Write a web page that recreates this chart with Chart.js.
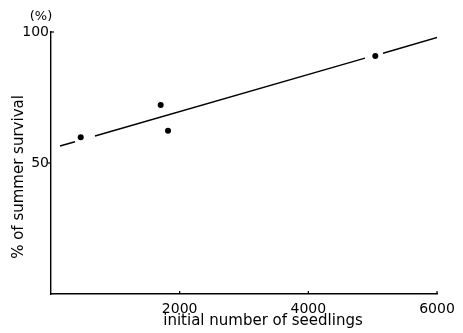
<!DOCTYPE html>
<html>
<head>
<meta charset="utf-8">
<script src="https://cdn.jsdelivr.net/npm/chart.js@4/dist/chart.umd.min.js"></script>
<style>
  html, body { margin: 0; padding: 0; background: #fff; }
  canvas { display: block; }
</style>
</head>
<body>
<canvas id="c" width="463" height="333"></canvas>
<script>
// Observed plots: initial seedling count vs. summer survival (%)
const seedlings = [462, 1705, 1819, 5041];
const survival  = [59.8, 72.1, 62.3, 90.8];

// Fitted regression line, broken where it passes the plotted points
const fitX = [140, 373, 520, 684, 4881, 5020, 5161, 6047];
const fitY = [56.5, 58.1, null, 60.3, 90.0, null, 91.9, 98.2];

// Axis tick labels
const xTicks = [2000, 4000, 6000];
const yTicks = [50, 100];

const xTitle = 'initial number of seedlings';
const yTitle = '% of summer survival';
const yUnit  = '(%)';

const FONT = 'DejaVu Sans';

const fitLine = fitX.map((x, i) => ({ x, y: fitY[i] }));
const obs = seedlings.map((x, i) => ({ x, y: survival[i] }));

const decorations = {
  id: 'decorations',
  afterDraw(chart) {
    const { ctx, scales: { x, y } } = chart;
    ctx.save();
    ctx.strokeStyle = '#000';
    ctx.lineWidth = 1.2;
    // short inward tick marks on the x axis
    xTicks.forEach(v => {
      const px = x.getPixelForValue(v);
      ctx.beginPath();
      ctx.moveTo(px, y.bottom);
      ctx.lineTo(px, y.bottom - 3);
      ctx.stroke();
    });
    // y axis tick marks
    const p100 = y.getPixelForValue(100);
    ctx.beginPath();
    ctx.moveTo(x.left, p100);
    ctx.lineTo(x.left + 3, p100);
    ctx.stroke();
    const p50 = y.getPixelForValue(50);
    ctx.beginPath();
    ctx.moveTo(x.left, p50);
    ctx.lineTo(x.left - 3, p50);
    ctx.stroke();

    ctx.fillStyle = '#000';
    ctx.textAlign = 'center';
    ctx.textBaseline = 'middle';
    ctx.font = '13px "' + FONT + '"';
    ctx.fillText(yUnit, 41, 17);
    ctx.font = '15px "' + FONT + '"';
    ctx.fillText(xTitle, 263, 321);
    ctx.translate(19, 177);
    ctx.rotate(-Math.PI / 2);
    ctx.fillText(yTitle, 0, 0);
    ctx.restore();
  }
};

new Chart(document.getElementById('c'), {
  type: 'scatter',
  data: {
    datasets: [
      {
        data: fitLine,
        showLine: true,
        spanGaps: false,
        borderColor: '#000',
        borderWidth: 1.4,
        pointRadius: 0,
        fill: false
      },
      {
        data: obs,
        pointRadius: 3,
        pointBackgroundColor: '#000',
        pointBorderColor: '#000',
        pointBorderWidth: 0
      }
    ]
  },
  options: {
    responsive: false,
    animation: false,
    events: [],
    layout: { padding: { top: 32, right: 26, left: 0, bottom: 0 } },
    plugins: { legend: { display: false }, tooltip: { enabled: false } },
    scales: {
      x: {
        type: 'linear',
        min: 0,
        max: 6000,
        afterBuildTicks(scale) { scale.ticks = xTicks.map(v => ({ value: v })); },
        afterFit(scale) { scale.height = 39; },
        grid: { drawOnChartArea: false, drawTicks: false },
        border: { display: true, color: '#000', width: 1.4 },
        ticks: {
          padding: 7,
          color: '#000',
          font: { family: FONT, size: 14 },
          maxRotation: 0,
          callback: v => String(v)
        }
      },
      y: {
        type: 'linear',
        min: 0,
        max: 100,
        afterBuildTicks(scale) { scale.ticks = yTicks.map(v => ({ value: v })); },
        afterFit(scale) { scale.width = 51; },
        grid: { drawOnChartArea: false, drawTicks: false },
        border: { display: true, color: '#000', width: 1.4 },
        ticks: {
          padding: 2,
          color: '#000',
          font: { family: FONT, size: 14 },
          callback: v => String(v)
        }
      }
    }
  },
  plugins: [decorations]
});
</script>
</body>
</html>
